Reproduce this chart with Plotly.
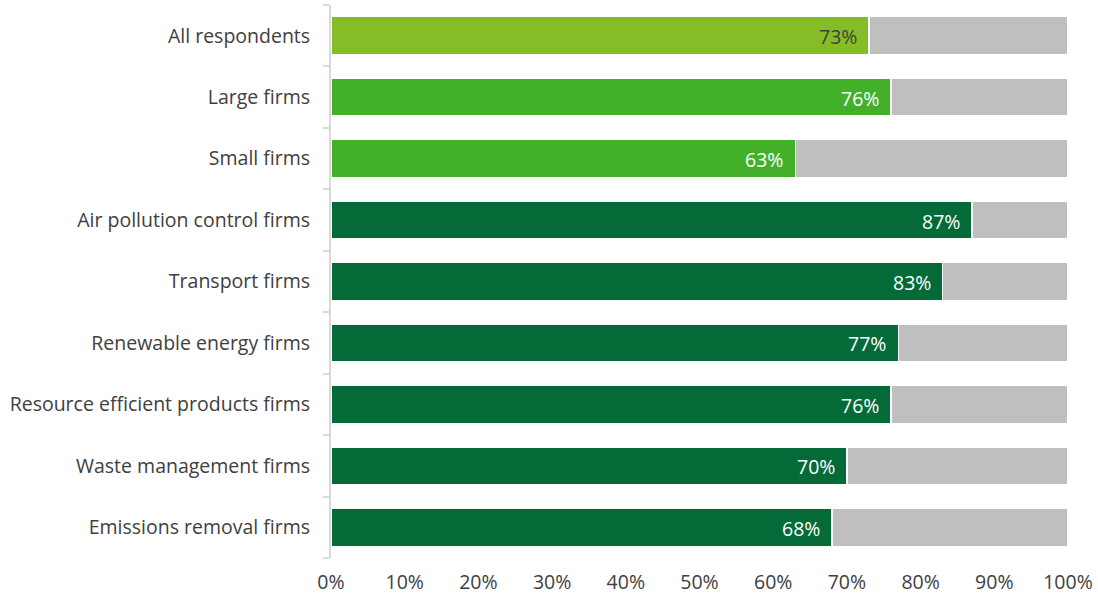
import plotly.graph_objects as go

categories = [
    "All respondents",
    "Large firms",
    "Small firms",
    "Air pollution control firms",
    "Transport firms",
    "Renewable energy firms",
    "Resource efficient products firms",
    "Waste management firms",
    "Emissions removal firms",
]
shares = [73, 76, 63, 87, 83, 77, 76, 70, 68]
bar_colors = ["#86BC25", "#43B02A", "#43B02A"] + ["#046A38"] * 6
label_colors = ["#404040"] + ["#FFFFFF"] * 8
x_ticks = [0, 10, 20, 30, 40, 50, 60, 70, 80, 90, 100]
x_tick_labels = [f"{t}%" for t in x_ticks]

remainders = [100 - v for v in shares]
font_family = "'Open Sans', sans-serif"
font_size = 19.5

fig = go.Figure()
fig.add_trace(go.Bar(
    y=categories, x=shares, orientation="h",
    marker=dict(color=bar_colors, line=dict(color="#FFFFFF", width=1.5)),
    hoverinfo="skip", showlegend=False,
))
fig.add_trace(go.Bar(
    y=categories, x=remainders, orientation="h",
    marker=dict(color="#BFBFBF", line=dict(color="#FFFFFF", width=1.5)),
    hoverinfo="skip", showlegend=False,
))

for cat, v, c in zip(categories, shares, label_colors):
    fig.add_annotation(
        x=v, y=cat, text=f"{v}%", showarrow=False,
        xanchor="right", xshift=-10, yshift=-1,
        font=dict(family=font_family, size=font_size, color=c),
    )

fig.update_layout(
    barmode="stack",
    bargap=0.38,
    width=1098, height=595,
    margin=dict(l=331, r=30, t=5, b=37),
    plot_bgcolor="#FFFFFF", paper_bgcolor="#FFFFFF",
    font=dict(family=font_family, size=font_size, color="#404040"),
)
fig.update_xaxes(
    range=[0, 100], tickvals=x_ticks, ticktext=x_tick_labels,
    showgrid=False, zeroline=False, showline=False, ticks="",
    ticklabelstandoff=10, automargin=False,
    tickfont=dict(size=font_size, color="#404040"),
)
fig.update_yaxes(
    categoryorder="array", categoryarray=categories[::-1],
    showgrid=False, zeroline=False,
    showline=True, linecolor="#D9D9D9", linewidth=2,
    ticks="outside", tickson="boundaries", ticklen=6, tickcolor="#D9D9D9", tickwidth=2,
    ticklabelstandoff=15, automargin=False,
    tickfont=dict(size=font_size, color="#404040"),
)

fig.write_html("out.html")
